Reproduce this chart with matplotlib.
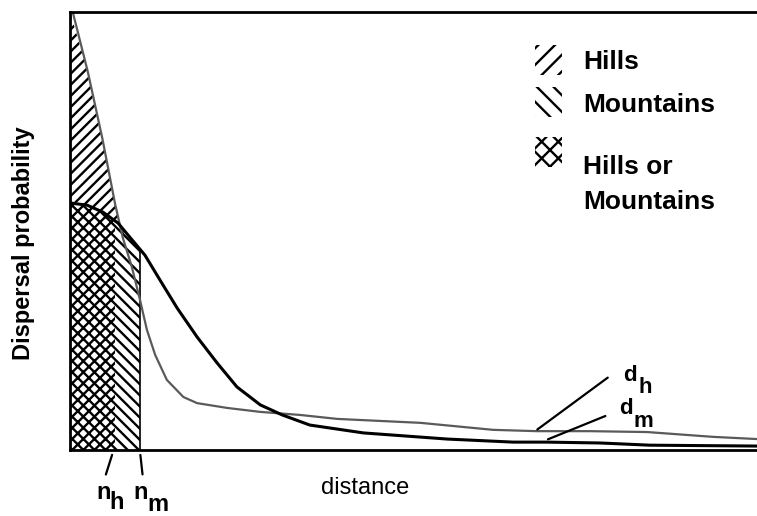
import numpy as np
import matplotlib
matplotlib.use("Agg")
import matplotlib.pyplot as plt
from matplotlib.patches import Rectangle

plt.rcParams['font.family'] = ['Liberation Sans', 'DejaVu Sans']
plt.rcParams['hatch.linewidth'] = 1.7

# dispersal kernels (distance 0-100, probability 0-1)
hills_x = [0.4, 2.6, 4.7, 6.6, 7.7, 9.0, 10.2, 11.2, 12.4, 14.1, 16.5, 18.5,
           22.9, 27.7, 33.5, 38.9, 51.0, 61.6, 68.0, 75.7, 84.0, 93.6, 100]
hills_y = [1.0, 0.863, 0.712, 0.559, 0.484, 0.418, 0.342, 0.274, 0.217, 0.16,
           0.121, 0.107, 0.096, 0.087, 0.08, 0.071, 0.062, 0.046, 0.043, 0.043,
           0.041, 0.03, 0.025]
mount_x = [0, 2.5, 4.8, 7.0, 8.7, 10.9, 13.1, 15.6, 18.5, 21.4, 24.3, 27.7, 30.9,
           34.9, 42.7, 54.9, 64.5, 69.4, 77.2, 84.4, 100]
mount_y = [0.564, 0.559, 0.543, 0.518, 0.486, 0.445, 0.388, 0.324, 0.258, 0.199,
           0.144, 0.103, 0.08, 0.057, 0.039, 0.025, 0.018, 0.018, 0.016, 0.011, 0.009]

n_h = 6.55   # neighbourhood limits
n_m = 10.2
x_cross = 7.8  # where the two kernels cross
d_h = (67.7, 0.043)
d_m = (69.2, 0.022)

legend_labels = ["Hills", "Mountains", "Hills or\nMountains"]
legend_hatch = ["//", "\\\\", "xx"]

hx = np.array(hills_x); hy = np.array(hills_y)
mx = np.array(mount_x); my = np.array(mount_y)

fig = plt.figure(figsize=(7.57, 5.16), dpi=100)
ax = fig.add_axes([70 / 757, 66 / 516, 687 / 757, 438 / 516])

hatch_kw = dict(facecolor='none', edgecolor='black', linewidth=0)

# hills only: between the kernels, left of the crossing
xs = np.concatenate([mx[mx < x_cross], [x_cross]])
ax.fill_between(xs, np.interp(xs, mx, my), np.interp(xs, hx, hy), hatch='///', **hatch_kw)
# both: under the mountain kernel, left of n_h
xs = np.concatenate([mx[mx < n_h], [n_h]])
ax.fill_between(xs, 0, np.interp(xs, mx, my), hatch='xxx', **hatch_kw)
# mountains only: under the mountain kernel between n_h and n_m
xs = np.concatenate([[n_h], mx[(mx > n_h) & (mx < n_m)], [n_m]])
ax.fill_between(xs, 0, np.interp(xs, mx, my), hatch='\\\\\\', **hatch_kw)
ax.plot([n_m, n_m], [0, np.interp(n_m, mx, my)], color='black', lw=1.2)

ax.plot(hx, hy, color='#5a5a5a', lw=1.6)
ax.plot(mx, my, color='black', lw=2.2)

ax.set_xlim(0, 100)
ax.set_ylim(0, 1)
ax.set_xticks([])
ax.set_yticks([])
for s in ['left', 'top', 'bottom']:
    ax.spines[s].set_linewidth(2)
ax.spines['right'].set_visible(False)

# d labels
ax.annotate('', xy=d_h, xytext=(78.6, 0.169),
            arrowprops=dict(arrowstyle='-', color='black', lw=1.6))
ax.annotate('', xy=d_m, xytext=(78.3, 0.080),
            arrowprops=dict(arrowstyle='-', color='black', lw=1.6))
txt = dict(fontsize=16, fontweight='bold', ha='center', va='center', annotation_clip=False)
ax.annotate('d', xy=(81.5, 0.170), **txt)
ax.annotate('h', xy=(83.7, 0.143), **txt)
ax.annotate('d', xy=(80.9, 0.094), **txt)
ax.annotate('m', xy=(83.4, 0.065), **txt)

# n labels below the axis
line_kw = dict(arrowstyle='-', color='black', lw=1.6)
ax.annotate('', xy=(n_h - 0.3, -0.005), xytext=(5.1, -0.062),
            arrowprops=line_kw, annotation_clip=False)
ax.annotate('', xy=(n_m, -0.005), xytext=(10.6, -0.062),
            arrowprops=line_kw, annotation_clip=False)
txt['fontsize'] = 17
ax.annotate('n', xy=(4.9, -0.097), **txt)
ax.annotate('h', xy=(6.8, -0.121), **txt)
ax.annotate('n', xy=(10.3, -0.097), **txt)
ax.annotate('m', xy=(12.8, -0.125), **txt)

# legend drawn by hand
box_y = [0.856, 0.760, 0.646]
text_y = [0.886, 0.788, 0.674]
for lab, hat, by, ty in zip(legend_labels, legend_hatch, box_y, text_y):
    ax.add_patch(Rectangle((0.677, by), 0.039, 0.069, transform=ax.transAxes,
                           facecolor='white', edgecolor='black', linewidth=0,
                           hatch=hat))
    ax.text(0.747, ty, lab, transform=ax.transAxes, fontsize=19, fontweight='bold',
            ha='left', va='top' if '\n' in lab else 'center',
            linespacing=1.6)

fig.text(24 / 757, 1 - 243 / 516, 'Dispersal probability', rotation=90,
         fontsize=17, fontweight='bold', ha='center', va='center')
fig.text(365 / 757, 1 - 488 / 516, 'distance', fontsize=17, ha='center', va='center')

fig.savefig('out.png', dpi=100)
